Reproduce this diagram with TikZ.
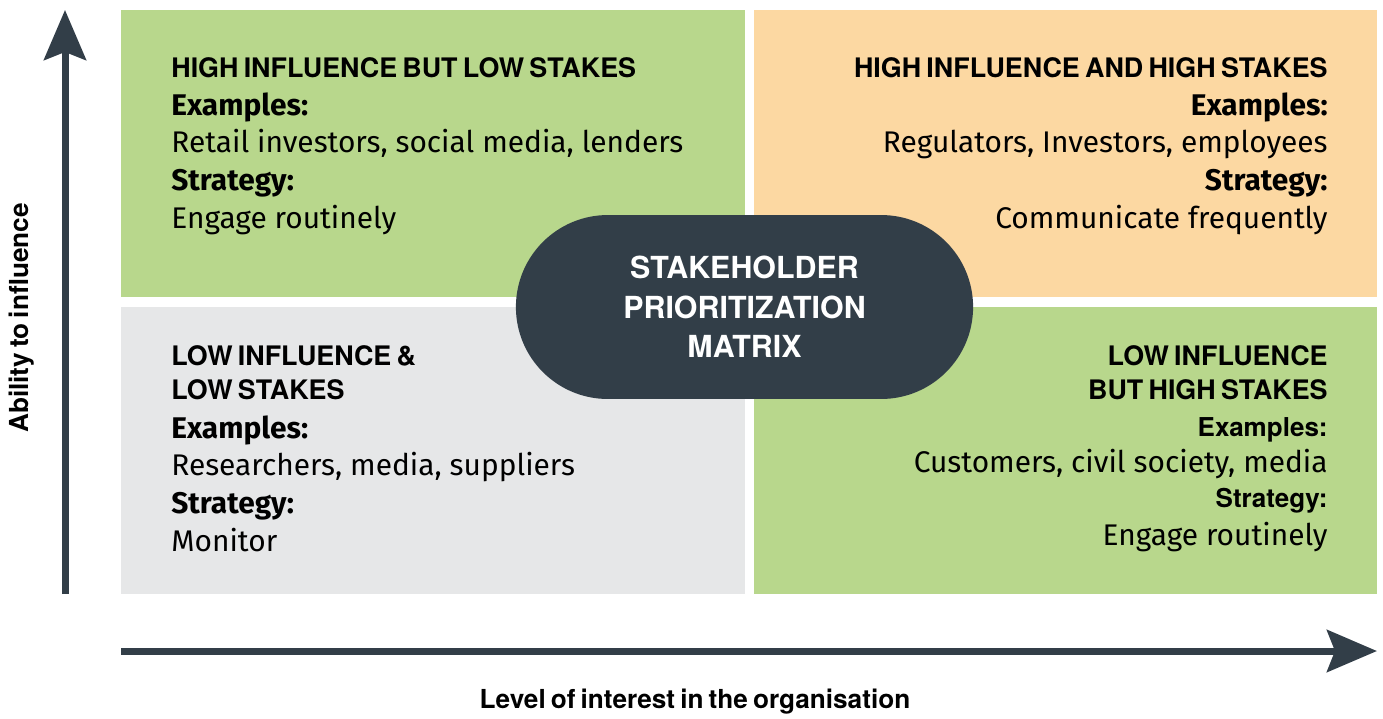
\documentclass[tikz,border=0pt]{standalone}
\usepackage{fontspec}
\setmainfont{Fira Sans}
\newfontfamily\grotesk{TeX Gyre Heros}
\newfontfamily\groteskhead[WordSpace=0.7]{TeX Gyre Heros}
\usetikzlibrary{arrows.meta, positioning, shapes.misc}

\definecolor{leaf}{HTML}{B8D78C}
\definecolor{peach}{HTML}{FCD8A2}
\definecolor{mist}{HTML}{E6E7E8}
\definecolor{slate}{HTML}{323E48}

\tikzset{
  quad/.style={rectangle, minimum width=12.48cm, minimum height=5.74cm, inner sep=0},
  blurb/.style={inner sep=0, font=\fontsize{17}{21.5}\selectfont},
  axis/.style={line width=0.14cm, draw=slate, -{Stealth[length=1cm, width=0.84cm, inset=0.16cm]}},
  axislabel/.style={font=\groteskhead\bfseries\fontsize{14.9}{17}\selectfont},
}
\newcommand{\heading}[1]{{\groteskhead\bfseries\fontsize{15.3}{18}\selectfont #1}}

\begin{document}
\begin{tikzpicture}[x=0.02cm, y=-0.02cm]
  \useasboundingbox (0,0) rectangle (1383,718);

  % the four quadrants
  \node[quad, fill=leaf]  (tl) at (433,153.5) {};
  \node[quad, fill=peach] (tr) at (1065.5,153.5) {};
  \node[quad, fill=mist]  (bl) at (433,450.5) {};
  \node[quad, fill=leaf]  (br) at (1065.5,450.5) {};

  % axes
  \coordinate (yfoot) at (65,594);
  \coordinate (ytip) at (65,10);
  \coordinate (xfoot) at (121,651);
  \coordinate (xtip) at (1377,651);
  \draw[axis] (yfoot) -- (ytip);
  \draw[axis] (xfoot) -- (xtip);

  \node[axislabel, rotate=90] (ylab) at (22,318) {Ability to influence};
  \node[axislabel] (xlab) at (695,702) {Level of interest in the organisation};

  % quadrant texts
  \node[blurb, anchor=north west, align=left] (tltext) at (171,57)
    {\heading{HIGH INFLUENCE BUT LOW STAKES}\\
     \textbf{Examples:}\\
     Retail investors, social media, lenders\\
     \textbf{Strategy:}\\
     Engage routinely};
  \node[blurb, anchor=north east, align=right] (trtext) at (1328,57)
    {\heading{HIGH INFLUENCE AND HIGH STAKES}\\
     \textbf{Examples:}\\
     Regulators, Investors, employees\\
     \textbf{Strategy:}\\
     Communicate frequently};
  \node[blurb, anchor=north west, align=left] (bltext) at (171,345)
    {\heading{LOW INFLUENCE \&}\\[-2.2pt]
     \heading{LOW STAKES}\\[0.6pt]
     \textbf{Examples:}\\
     Researchers, media, suppliers\\
     \textbf{Strategy:}\\
     Monitor};
  \node[blurb, anchor=north east, align=right] (brtext) at (1328,345)
    {\heading{LOW INFLUENCE}\\[-2.2pt]
     \heading{BUT HIGH STAKES}\\
     {\grotesk\bfseries\fontsize{14.8}{18}\selectfont Examples:}\\[-1.1pt]
     Customers, civil society, media\\[-1.7pt]
     {\grotesk\bfseries\fontsize{14.8}{18}\selectfont Strategy:}\\
     Engage routinely};

  % centre badge
  \node[rounded rectangle, fill=slate, text=white, align=center,
        minimum width=9.38cm, minimum height=3.68cm,
        font=\grotesk\bfseries\fontsize{17.3}{22.4}\selectfont] (badge) at (744.5,307)
    {STAKEHOLDER\\PRIORITIZATION\\MATRIX};
\end{tikzpicture}
\end{document}
